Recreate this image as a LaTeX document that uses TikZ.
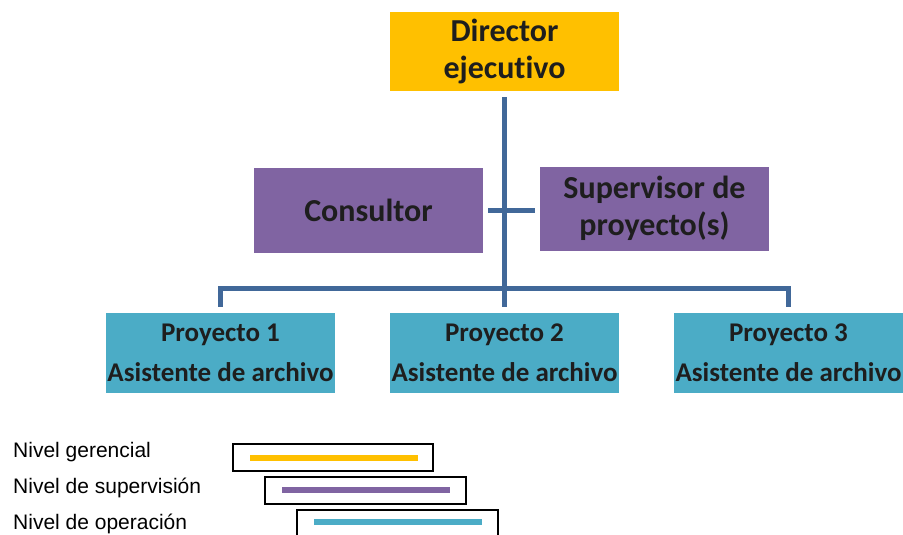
\documentclass[tikz,border=0pt]{standalone}
\usepackage{fontspec}
\setmainfont{Liberation Sans}
\newfontfamily\calib[Ligatures=NoCommon]{Carlito}
\definecolor{gold}{RGB}{255,192,0}
\definecolor{purp}{RGB}{128,100,162}
\definecolor{teal}{RGB}{75,172,198}
\definecolor{linkblue}{RGB}{65,104,153}
\definecolor{txt}{RGB}{30,30,30}
\begin{document}
\begin{tikzpicture}[x=1pt,y=-1pt,
  box/.style={draw=none,inner sep=0pt,minimum width=229pt,align=center,text=txt,
    font=\calib\bfseries\fontsize{32}{37}\selectfont},
  projbox/.style={box,fill=teal,minimum height=80pt,font=\calib\bfseries\fontsize{27}{40}\selectfont},
  link/.style={draw=linkblue,line width=5pt},
  legbox/.style={draw=black,line width=1.6pt,fill=white},
  legtext/.style={anchor=base west,inner sep=0pt,font=\fontsize{21}{24}\selectfont}]
\useasboundingbox (0,0) rectangle (903,535);
\clip (0,0) rectangle (903,535);
% boxes
\node[box,fill=gold,minimum height=79pt] (dir) at (504.5,51.5) {Director\\ejecutivo};
\node[box,fill=purp,minimum height=85pt] (cons) at (368.5,210.5) {Consultor};
\node[box,fill=purp,minimum height=84pt] (sup) at (654.5,208.5) {Supervisor de\\proyecto(s)};
\node[projbox] (p1) at (220.5,353) {Proyecto 1\\Asistente de archivo};
\node[projbox] (p2) at (504.5,353) {Proyecto 2\\Asistente de archivo};
\node[projbox] (p3) at (788.5,353) {Proyecto 3\\Asistente de archivo};
% connectors
\draw[link] ([yshift=-6pt]dir.south) -- ([yshift=6pt]p2.north);
\draw[link] ([xshift=5pt]cons.east) -- ([xshift=-5pt]sup.west |- cons.east);
\draw[link] ([yshift=6pt]p1.north) |- ([yshift=24pt]p2.north) -| ([yshift=6pt]p3.north);
% legend
\node[legtext] (l1) at (13,457) {Nivel gerencial};
\node[legtext] (l2) at (13,493) {Nivel de supervisión};
\node[legtext] (l3) at (13,529) {Nivel de operación};
\draw[legbox] (233,444) rectangle (433,471);
\draw[draw=gold,line width=6.5pt] (250,458) -- (418,458);
\draw[legbox] (265,477) rectangle (466,504);
\draw[draw=purp,line width=6.5pt] (282,490) -- (450,490);
\draw[legbox] (297,510) rectangle (498,540);
\draw[draw=teal,line width=6.5pt] (314,522) -- (482,522);
\end{tikzpicture}
\end{document}
